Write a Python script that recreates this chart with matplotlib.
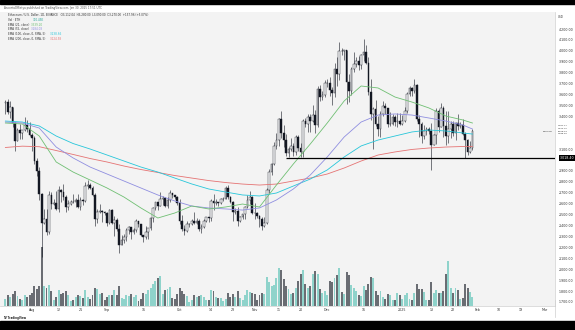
import matplotlib
matplotlib.use("Agg")
import matplotlib.pyplot as plt
import matplotlib.dates as mdates
import matplotlib.transforms as mtransforms
from matplotlib.patches import Rectangle
from matplotlib.lines import Line2D
import numpy as np
import pandas as pd

# ETH/USD daily candles, 21 Jul 2024 .. 30 Jan 2025 (one line per month)
first_day = "2024-07-21"
first_open = 3518
close = [
    3536, 3441, 3482, 3336, 3175, 3275, 3250, 3271, 3320, 3280, 3232,
    3203, 2988, 2903, 2688, 2419, 2461, 2342, 2682, 2598, 2610, 2555, 2722, 2703, 2660, 2569, 2593, 2614, 2613, 2636, 2572, 2631, 2622, 2763, 2767, 2746, 2681, 2458, 2528, 2530, 2524, 2513,
    2425, 2538, 2424, 2450, 2368, 2224, 2272, 2297, 2359, 2388, 2340, 2360, 2438, 2418, 2316, 2296, 2340, 2373, 2465, 2560, 2612, 2580, 2646, 2652, 2579, 2632, 2695, 2677, 2658, 2602,
    2446, 2364, 2349, 2414, 2416, 2440, 2422, 2440, 2370, 2386, 2438, 2476, 2467, 2629, 2606, 2612, 2605, 2641, 2644, 2746, 2666, 2620, 2525, 2534, 2439, 2480, 2505, 2571, 2638, 2660, 2519,
    2513, 2489, 2458, 2398, 2422, 2722, 2894, 2962, 3127, 3183, 3372, 3244, 3186, 3061, 3100, 3129, 3073, 3207, 3107, 3069, 3357, 3328, 3392, 3362, 3415, 3325, 3655, 3580, 3591, 3705,
    3708, 3642, 3614, 3838, 3785, 3997, 3995, 4005, 3712, 3628, 3833, 3880, 3907, 3871, 3960, 3986, 3890, 3627, 3420, 3470, 3334, 3282, 3422, 3492, 3477, 3330, 3333, 3395, 3350, 3355, 3332,
    3354, 3452, 3605, 3657, 3636, 3686, 3380, 3326, 3220, 3268, 3282, 3265, 3136, 3225, 3450, 3306, 3473, 3309, 3216, 3280, 3326, 3245, 3340, 3310, 3318, 3235, 3181, 3076, 3112, 3270,
]
high = [
    3546, 3562, 3541, 3490, 3346, 3289, 3329, 3272, 3397, 3365, 3350,
    3249, 3218, 3015, 2940, 2698, 2553, 2552, 2720, 2709, 2645, 2720, 2766, 2738, 2780, 2679, 2630, 2635, 2690, 2650, 2692, 2660, 2645, 2800, 2820, 2790, 2762, 2701, 2555, 2600, 2545, 2535,
    2522, 2550, 2554, 2490, 2469, 2410, 2318, 2325, 2375, 2395, 2390, 2382, 2462, 2441, 2418, 2318, 2395, 2380, 2480, 2570, 2615, 2617, 2703, 2670, 2665, 2660, 2729, 2702, 2680, 2671,
    2640, 2497, 2402, 2441, 2425, 2460, 2521, 2466, 2464, 2418, 2460, 2480, 2482, 2645, 2688, 2640, 2620, 2648, 2660, 2760, 2769, 2668, 2622, 2560, 2570, 2492, 2509, 2581, 2680, 2720, 2670,
    2605, 2525, 2494, 2475, 2475, 2742, 2915, 2975, 3165, 3247, 3384, 3446, 3324, 3240, 3123, 3200, 3155, 3225, 3225, 3160, 3379, 3384, 3420, 3422, 3500, 3460, 3680, 3685, 3632, 3735,
    3740, 3760, 3670, 3889, 3940, 4085, 4025, 4010, 4010, 3785, 3850, 3990, 3940, 3955, 3970, 4107, 4050, 3948, 3745, 3490, 3553, 3400, 3450, 3540, 3525, 3480, 3440, 3420, 3410, 3430, 3430,
    3410, 3490, 3620, 3675, 3665, 3745, 3700, 3410, 3350, 3320, 3300, 3300, 3335, 3240, 3475, 3466, 3525, 3495, 3450, 3450, 3360, 3360, 3347, 3425, 3348, 3375, 3260, 3190, 3175, 3280,
]
low = [
    3420, 3422, 3386, 3306, 3087, 3171, 3197, 3190, 3262, 3255, 3218,
    3080, 2968, 2858, 2630, 2111, 2413, 2310, 2324, 2555, 2590, 2541, 2520, 2612, 2632, 2520, 2540, 2584, 2604, 2570, 2565, 2538, 2584, 2618, 2735, 2735, 2670, 2392, 2425, 2512, 2437, 2498,
    2400, 2410, 2415, 2306, 2350, 2150, 2220, 2240, 2262, 2320, 2278, 2322, 2343, 2390, 2300, 2252, 2275, 2275, 2362, 2436, 2538, 2538, 2578, 2590, 2572, 2557, 2615, 2650, 2640, 2586,
    2412, 2350, 2310, 2340, 2390, 2405, 2411, 2411, 2353, 2330, 2381, 2430, 2430, 2440, 2540, 2590, 2578, 2600, 2628, 2640, 2640, 2605, 2440, 2510, 2395, 2428, 2460, 2460, 2560, 2600, 2505,
    2460, 2470, 2390, 2357, 2390, 2418, 2700, 2862, 2955, 3100, 3126, 3200, 3120, 3033, 3030, 3085, 3036, 3050, 3080, 3030, 3030, 3300, 3255, 3260, 3350, 3250, 3300, 3540, 3550, 3580,
    3665, 3590, 3500, 3580, 3680, 3735, 3960, 3915, 3515, 3530, 3600, 3810, 3855, 3822, 3838, 3905, 3880, 3600, 3364, 3100, 3310, 3220, 3210, 3400, 3420, 3300, 3310, 3325, 3315, 3300, 3320,
    3320, 3345, 3435, 3590, 3590, 3610, 3360, 3210, 3155, 3190, 3230, 3240, 2910, 3135, 3150, 3260, 3300, 3210, 3140, 3160, 3200, 3220, 3180, 3275, 3290, 3230, 3020, 3050, 3060, 3090,
]
# volume in thousands of ETH
volume_k = [
    250, 380, 320, 420, 520, 360, 240, 200, 400, 330, 380,
    450, 700, 600, 720, 2100, 700, 650, 750, 520, 220, 330, 560, 420, 450, 520, 380, 170, 230, 320, 400, 360, 300, 560, 330, 240, 380, 640, 620, 420, 450, 200,
    330, 400, 380, 560, 410, 700, 300, 260, 380, 360, 430, 330, 400, 180, 250, 460, 440, 560, 640, 780, 880, 1000, 1080, 420, 560, 600, 680, 300, 260, 420,
    640, 520, 420, 340, 150, 200, 400, 330, 360, 380, 320, 210, 220, 560, 520, 330, 280, 300, 170, 260, 470, 320, 440, 330, 520, 300, 220, 380, 560, 500, 480,
    430, 220, 400, 450, 420, 1050, 850, 700, 750, 1000, 1350, 1300, 950, 720, 600, 430, 480, 650, 900, 1150, 1300, 800, 650, 700, 1150, 1250, 1150, 620, 450, 520,
    400, 900, 850, 1000, 1100, 1350, 500, 420, 1200, 1100, 750, 650, 520, 380, 340, 700, 560, 800, 1050, 1000, 550, 380, 520, 330, 240, 430, 400, 200, 230, 450, 380,
    250, 380, 450, 260, 200, 480, 800, 620, 600, 500, 220, 210, 850, 480, 560, 450, 480, 520, 1150, 1600, 650, 470, 650, 560, 260, 300, 780, 650, 500, 310,
]

# moving averages, once a week
ema_days = ["2024-07-21", "2024-07-28", "2024-08-04", "2024-08-11", "2024-08-18", "2024-08-25",
            "2024-09-01", "2024-09-08", "2024-09-15", "2024-09-22", "2024-09-29", "2024-10-06",
            "2024-10-13", "2024-10-20", "2024-10-27", "2024-11-03", "2024-11-10", "2024-11-17",
            "2024-11-24", "2024-12-01", "2024-12-08", "2024-12-15", "2024-12-22", "2024-12-29",
            "2025-01-05", "2025-01-12", "2025-01-19", "2025-01-26", "2025-01-30"]
ema21 = [3339, 3330, 3220, 2982, 2890, 2817, 2744, 2661, 2561, 2469, 2515, 2579, 2552, 2570, 2597,
         2570, 2771, 2964, 3147, 3339, 3541, 3678, 3660, 3577, 3531, 3477, 3403, 3367, 3339]
ema55 = [3348, 3339, 3293, 3119, 3019, 2936, 2872, 2808, 2744, 2680, 2625, 2579, 2561, 2552, 2542,
         2561, 2634, 2735, 2863, 3028, 3211, 3348, 3412, 3422, 3412, 3385, 3357, 3321, 3284]
ema100 = [3357, 3348, 3312, 3220, 3151, 3101, 3046, 2991, 2936, 2890, 2835, 2781, 2735, 2707, 2680,
          2671, 2698, 2762, 2826, 2909, 3028, 3129, 3183, 3220, 3257, 3275, 3266, 3248, 3238]
ema200 = [3115, 3127, 3122, 3087, 3051, 3014, 2982, 2945, 2913, 2886, 2858, 2835, 2812, 2794, 2780,
          2771, 2780, 2808, 2835, 2872, 2927, 2991, 3046, 3074, 3097, 3110, 3119, 3124, 3124]

support_level = 3018.40
support_from = "2024-11-14"

price_ticks = [4200, 4100, 4000, 3900, 3800, 3700, 3600, 3500, 3400, 3100, 2900, 2800, 2700,
               2600, 2500, 2400, 2300, 2200, 2100, 2000, 1900, 1800, 1700]
time_ticks = ["2024-08-01", "2024-08-12", "2024-08-21", "2024-09-01", "2024-09-16", "2024-10-01",
              "2024-10-14", "2024-10-23", "2024-11-01", "2024-11-11", "2024-11-20", "2024-12-01",
              "2024-12-16", "2025-01-01", "2025-01-13", "2025-01-22", "2025-02-01", "2025-02-10",
              "2025-02-19", "2025-03-01"]
time_labels = ["Aug", "12", "21", "Sep", "16", "Oct", "14", "23", "Nov", "11", "20", "Dec", "16",
               "2025", "13", "22", "Feb", "10", "19", "Mar"]

W, H = 575, 330
BG = "#f3f3f3"
INK = "#131722"
TEAL = "#8fd3cb"
GREY = "#6a6d73"
C21, C55, C100, C200 = "#6fbf73", "#8f8ee0", "#26c6da", "#e57373"


def fpos(x, y):
    # pixel position -> figure fraction
    return x / W, 1 - y / H


dates = pd.date_range(first_day, periods=len(close), freq="D")
xd = mdates.date2num(dates)
c = np.array(close, float)
o = np.r_[first_open, c[:-1]]
h = np.array(high, float)
l = np.array(low, float)
up = c >= o

fig = plt.figure(figsize=(W / 100, H / 100), dpi=100, facecolor="white")
ax = fig.add_axes([0, 24 / H, 555 / W, 294 / H])
ax2 = ax.twinx()
ax.set_zorder(ax2.get_zorder() + 1)
ax.patch.set_visible(False)
ax2.patch.set_visible(True)
ax2.set_facecolor(BG)

# volume underlay
ax2.bar(xd, volume_k, width=0.8, color=np.where(up, TEAL, GREY), linewidth=0)
ax2.set_ylim(0, 10500)
ax2.set_yticks([])
for s in ax2.spines.values():
    s.set_visible(False)

# candles
ax.vlines(xd, l, h, color=INK, lw=0.4, zorder=2)
ax.bar(xd, np.maximum(np.abs(c - o), 1), bottom=np.minimum(o, c), width=0.7,
       color=np.where(up, "white", INK), edgecolor=INK, linewidth=0.3, zorder=2)

ed = mdates.date2num(pd.to_datetime(ema_days))
ax.plot(ed, ema200, color=C200, lw=0.6, zorder=3)
ax.plot(ed, ema100, color=C100, lw=0.6, zorder=3)
ax.plot(ed, ema55, color=C55, lw=0.6, zorder=3)
ax.plot(ed, ema21, color=C21, lw=0.6, zorder=3)

aug1 = mdates.date2num(pd.Timestamp("2024-08-01"))
ax.set_xlim(aug1 - 32 / 2.42, aug1 + 523 / 2.42)
ax.set_ylim(1663.2, 4355.7)

ax.hlines(support_level, mdates.date2num(pd.Timestamp(support_from)), ax.get_xlim()[1],
          color="black", lw=0.9, zorder=4)

# axes
for side in ("top", "left"):
    ax.spines[side].set_visible(False)
for side in ("right", "bottom"):
    ax.spines[side].set_color("#cfcfcf")
    ax.spines[side].set_linewidth(0.5)
ax.yaxis.tick_right()
ax.set_yticks(price_ticks, [f"{v:,.2f}" for v in price_ticks])
ax.tick_params(axis="y", length=0, pad=2.5, labelsize=2.3, labelcolor="#333")
ax.set_xticks(mdates.date2num(pd.to_datetime(time_ticks)), time_labels)
ax.tick_params(axis="x", length=0, pad=1.6, labelsize=2.3, labelcolor="#333")

trans = mtransforms.blended_transform_factory(ax.transAxes, ax.transData)
ax.text(1.009, support_level, f"{support_level:,.2f}", transform=trans, fontsize=2.3,
        color="white", va="center", ha="left", clip_on=False,
        bbox=dict(boxstyle="square,pad=0.3", fc="black", ec="none"))

# price-scale labels near the last close
for y, t in [(126, "3,321.47"), (128.6, "3,270.00"), (131.2, "06:08:13"), (133.8, "3,238.66")]:
    fig.text(*fpos(558, y), t, fontsize=1.6, color="#333", va="center", ha="left")
fig.text(*fpos(553, 131), "ETHUSD", fontsize=1.7, color="#333", va="center", ha="right")
fig.text(*fpos(558, 17), "USD", fontsize=2.0, color="#333", va="center", ha="left")

fig.add_artist(Line2D([555 / W, 555 / W], [1 - 300 / H, 1 - 317 / H], color="#cfcfcf", lw=0.5))

# header / legend
fig.text(*fpos(4, 7.5), "AnconiaOfSetya published on TradingView.com, Jan 30, 2025 17:51 UTC",
         fontsize=2.0, color="#555", va="center")
fig.text(*fpos(8, 15.5),
         "Ethereum / U.S. Dollar, 1D, BINANCE   O3,112.04  H3,280.00  L3,090.00  C3,270.00  +157.96 (+5.07%)",
         fontsize=2.0, color="#333", va="center")
legend_rows = [
    (20.0, "Vol \u00b7 ETH", 33, "310.45K", "#26a69a"),
    (24.5, "EMA (21, close)", 31, "3,339.20", C21),
    (29.2, "EMA (55, close)", 31, "3,284.08", C55),
    (34.0, "EMA (100, close, 0, SMA, 5)", 50, "3,238.66", C100),
    (38.8, "EMA (200, close, 0, SMA, 5)", 50, "3,124.58", C200),
]
for y, label, vx, val, col in legend_rows:
    fig.text(*fpos(8, y), label, fontsize=2.0, color="#333", va="center")
    fig.text(*fpos(vx, y), val, fontsize=2.0, color=col, va="center")

fig.text(*fpos(3, 318.5), "TV TradingView", fontsize=1.9, color="#222", va="center",
         fontweight="bold")

# black frame strips of the screenshot
fig.add_artist(Rectangle((0, 1 - 4 / H), 1, 4 / H, transform=fig.transFigure, color="black"))
fig.add_artist(Rectangle((0, 0), 1, 9 / H, transform=fig.transFigure, color="black"))

fig.savefig("out.png", dpi=100, facecolor=fig.get_facecolor())
